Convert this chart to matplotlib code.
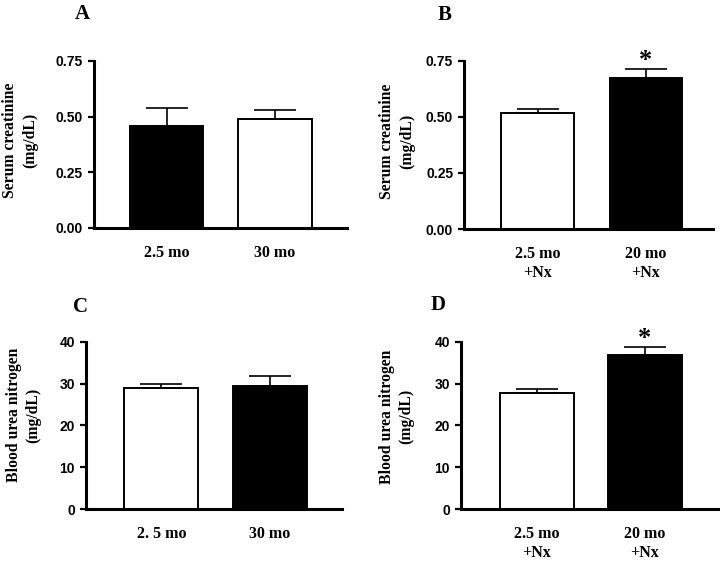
import matplotlib
matplotlib.use("Agg")
import matplotlib.pyplot as plt

# ---- data ----
a_labels = ["2.5 mo", "30 mo"]
a_means = [0.46, 0.49]
a_sem = [0.08, 0.04]
a_colors = ["black", "white"]

b_labels = ["2.5 mo\n+Nx", "20 mo\n+Nx"]
b_means = [0.515, 0.675]
b_sem = [0.021, 0.038]
b_colors = ["white", "black"]

c_labels = ["2. 5 mo", "30 mo"]
c_means = [29.0, 29.4]
c_sem = [1.0, 2.5]
c_colors = ["white", "black"]

d_labels = ["2.5 mo\n+Nx", "20 mo\n+Nx"]
d_means = [27.7, 36.9]
d_sem = [0.9, 1.9]
d_colors = ["white", "black"]

creat_ticks = [0.0, 0.25, 0.5, 0.75]
creat_ticklabels = ["0.00", "0.25", "0.50", "0.75"]
bun_ticks = [0, 10, 20, 30, 40]
bun_ticklabels = ["0", "10", "20", "30", "40"]

SERIF = "Liberation Serif"
SANS = "Liberation Sans"

fig = plt.figure(figsize=(7.2, 5.61), dpi=100)


def panel(rect, labels, means, sems, colors, ticks, ticklabels, ylabel,
          xlim, width, ylab_pos, letter, letter_pos, star=False,
          xlab_pad=12):
    ax = fig.add_axes(rect)
    x = list(range(len(means)))
    ax.bar(x, means, width=width, color=colors, edgecolor="black",
           linewidth=1.4, zorder=2)
    for xi, m, s in zip(x, means, sems):
        ax.errorbar([xi], [m], yerr=[[0], [s]], fmt="none", ecolor="black",
                    elinewidth=1.2, capsize=15, capthick=1.2, zorder=3)
    ax.set_xlim(*xlim)
    ax.set_ylim(ticks[0], ticks[-1])
    ax.set_yticks(ticks)
    ax.set_yticklabels(ticklabels, fontfamily=SANS, fontweight="bold",
                       fontsize=10)
    ax.set_xticks(x)
    ax.set_xticklabels(labels, fontfamily=SERIF, fontweight="bold",
                       fontsize=11.5, linespacing=1.25)
    ax.tick_params(axis="x", length=0, pad=xlab_pad)
    ax.tick_params(axis="y", length=4, width=1.6, direction="out", pad=4)
    for sp in ["top", "right"]:
        ax.spines[sp].set_visible(False)
    for sp in ["left", "bottom"]:
        ax.spines[sp].set_linewidth(2.2)
    ax.text(ylab_pos[0], ylab_pos[1], ylabel, transform=ax.transAxes,
            rotation=90, ha="center", va="center", multialignment="center",
            fontfamily=SERIF, fontweight="bold", fontsize=11.3,
            linespacing=1.3)
    fig.text(letter_pos[0] / 720, 1 - letter_pos[1] / 561, letter,
             ha="center", va="center", fontfamily=SERIF, fontweight="bold",
             fontsize=15)
    if star:
        ax.annotate("*", xy=(1, means[1] + sems[1]), xytext=(0, -2.5),
                    textcoords="offset points", ha="center", va="bottom",
                    fontfamily=SERIF, fontweight="bold", fontsize=19)
    return ax


panel([0.1306, 0.5936, 0.3514, 0.2977], a_labels, a_means, a_sem, a_colors,
      creat_ticks, creat_ticklabels, "Serum creatinine\n(mg/dL)",
      (-0.668, 1.664), 0.673, (-0.292, 0.524), "A", (82, 14))

panel([0.6449, 0.5918, 0.3454, 0.3000], b_labels, b_means, b_sem, b_colors,
      creat_ticks, creat_ticklabels, "Serum creatinine\n(mg/dL)",
      (-0.676, 1.62), 0.67, (-0.27, 0.523), "B", (445, 15), star=True)

panel([0.1194, 0.0922, 0.3552, 0.2987], c_labels, c_means, c_sem, c_colors,
      bun_ticks, bun_ticklabels, "Blood urea nitrogen\n(mg/dL)",
      (-0.696, 1.667), 0.684, (-0.244, 0.563), "C", (80, 307))

panel([0.6403, 0.0922, 0.3569, 0.2987], d_labels, d_means, d_sem, d_colors,
      bun_ticks, bun_ticklabels, "Blood urea nitrogen\n(mg/dL)",
      (-0.699, 1.674), 0.68, (-0.251, 0.552), "D", (438, 305), star=True)

fig.savefig("out.png", dpi=100)
